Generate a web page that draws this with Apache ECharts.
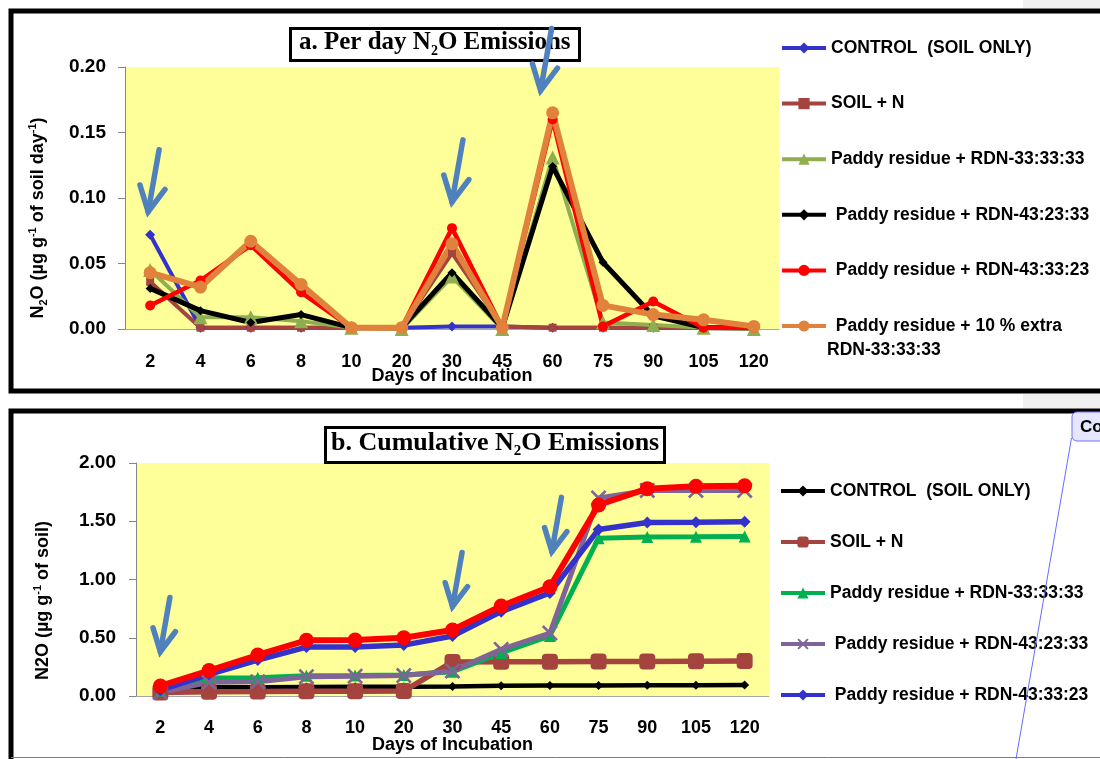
<!DOCTYPE html>
<html><head><meta charset="utf-8">
<script src="https://cdn.jsdelivr.net/npm/echarts@6/dist/echarts.min.js"></script>
<style>
html,body{margin:0;padding:0;background:#fff;width:1100px;height:759px;overflow:hidden}
#a{position:absolute;left:0;top:0;width:1100px;height:400px}
#b{position:absolute;left:0;top:400px;width:1100px;height:359px}
</style></head><body><div id="a"></div><div id="b"></div>
<script>
// ---------- DATA ----------
const days = ['2','4','6','8','10','20','30','45','60','75','90','105','120'];
const yTicksA = [0, 0.05, 0.10, 0.15, 0.20];
const yTicksB = [0, 0.5, 1.0, 1.5, 2.0];

// a. Per day N2O emissions (µg g-1 soil day-1)
const dailyControl = [0.072,0.001,0.001,0.001,0.001,0.001,0.002,0.002,0.001,0.001,0.001,0.001,0.001];
const dailySoilN   = [0.036,0.001,0.001,0.001,0.001,0.001,0.058,0.002,0.001,0.001,0.001,0.001,0.001];
const daily333333  = [0.045,0.009,0.009,0.006,0.001,0.000,0.040,0.000,0.131,0.005,0.003,0.001,0.000];
const daily432333  = [0.031,0.014,0.005,0.011,0.001,0.001,0.043,0.001,0.124,0.051,0.010,0.001,0.001];
const daily433323  = [0.018,0.037,0.064,0.028,0.001,0.001,0.077,0.001,0.160,0.002,0.021,0.001,0.001];
const dailyExtra   = [0.043,0.032,0.067,0.034,0.001,0.001,0.065,0.001,0.165,0.018,0.011,0.007,0.002];

// b. Cumulative N2O emissions (µg g-1 soil)
const cumControl = [0.072,0.075,0.076,0.078,0.079,0.080,0.082,0.088,0.090,0.091,0.092,0.093,0.094];
const cumSoilN   = [0.030,0.037,0.038,0.040,0.041,0.042,0.292,0.294,0.295,0.296,0.296,0.298,0.300];
const cum333333  = [0.045,0.154,0.157,0.174,0.176,0.180,0.209,0.370,0.515,1.355,1.365,1.367,1.370];
const cum432333  = [0.030,0.118,0.123,0.166,0.170,0.175,0.215,0.400,0.540,1.700,1.765,1.765,1.765];
const cum433323  = [0.050,0.186,0.309,0.420,0.420,0.437,0.515,0.724,0.885,1.430,1.490,1.492,1.496];
const cumExtra   = [0.086,0.218,0.352,0.478,0.480,0.500,0.566,0.772,0.938,1.640,1.780,1.800,1.805];

// annotation arrows (tip anchored at category index / value)
const arrowsA = [{cat:0,val:0.0895,dx:-2},{cat:6,val:0.097,dx:0},{cat:8,val:0.182,dx:-12}];
const arrowsB = [{cat:0,val:0.38,dx:0},{cat:6,val:0.767,dx:0},{cat:8,val:1.24,dx:2}];

// ---------- STYLE ----------
const SANS = 'Liberation Sans';
const SERIF = 'Liberation Serif';
const ARROW = '#4F81BD';
const YELLOW = '#FFFF99';
const xPath = 'path://M0,1.2L1.2,0L5,3.8L8.8,0L10,1.2L6.2,5L10,8.8L8.8,10L5,6.2L1.2,10L0,8.8L3.8,5Z';

function baseAxes(tickVals, nameRich, nameGapY, namePad, xNameGap, xMargin, yMargin) {
  return {
    xAxis: {
      type:'category', data: days, boundaryGap:true,
      axisLine:{show:true, lineStyle:{color:'#A6A6A6', width:1}},
      axisTick:{show:false},
      axisLabel:{interval:0, margin:xMargin, color:'#000', fontFamily:SANS, fontWeight:'bold', fontSize:18},
      name:'Days of Incubation', nameLocation:'middle', nameGap:xNameGap, nameMoveOverlap:false,
      nameTextStyle:{color:'#000', fontFamily:SANS, fontWeight:'bold', fontSize:18}
    },
    yAxis: {
      type:'value', min:tickVals[0], max:tickVals[tickVals.length-1],
      interval: tickVals[1]-tickVals[0],
      axisLine:{show:true, lineStyle:{color:'#868686', width:1}},
      axisTick:{show:true, length:7, lineStyle:{color:'#868686'}},
      splitLine:{show:false},
      axisLabel:{margin:yMargin, color:'#000', fontFamily:SANS, fontWeight:'bold', fontSize:19,
        formatter: v => v.toFixed(2)},
      name: nameRich, nameLocation:'middle', nameRotate:90, nameGap:nameGapY, nameMoveOverlap:false,
      nameTextStyle:{color:'#000', fontFamily:SANS, fontWeight:'bold', fontSize:18, lineHeight:22,
        padding:namePad,
        rich:{
          sub:{fontFamily:SANS, fontWeight:'bold', fontSize:11, lineHeight:11, verticalAlign:'bottom', color:'#000'},
          sup:{fontFamily:SANS, fontWeight:'bold', fontSize:11, lineHeight:11, verticalAlign:'top', color:'#000'}
        }}
    }
  };
}

function lineSeries(name, data, color, symbol, size, width) {
  return {
    type:'line', name, data, symbol, symbolSize:size, showSymbol:true,
    lineStyle:{color, width}, itemStyle:{color, borderWidth:0},
    emphasis:{disabled:true}, animation:false
  };
}

function arrowEls(chart, marks, len, wing) {
  const els = [];
  const th = 10*Math.PI/180;
  const d = [-Math.sin(th), Math.cos(th)];
  const rot = (v, a) => [v[0]*Math.cos(a) - v[1]*Math.sin(a), v[0]*Math.sin(a) + v[1]*Math.cos(a)];
  marks.forEach(m => {
    const p = chart.convertToPixel({gridIndex:0}, [m.cat, m.val]);
    const tip = [p[0] + m.dx, p[1]];
    const tail = [tip[0] - d[0]*len, tip[1] - d[1]*len];
    const b = [-d[0], -d[1]];
    const w1 = rot(b, 27*Math.PI/180), w2 = rot(b, -27*Math.PI/180);
    els.push({type:'polyline', z:100, shape:{points:[tail, tip]},
      style:{stroke:ARROW, lineWidth:5.5, lineCap:'round'}});
    els.push({type:'polyline', z:100, shape:{points:[[tip[0]+w1[0]*wing, tip[1]+w1[1]*wing], tip, [tip[0]+w2[0]*wing, tip[1]+w2[1]*wing]]},
      style:{stroke:ARROW, lineWidth:5.5, lineCap:'round', lineJoin:'miter', fill:null}});
  });
  return els;
}

const legendBase = {
  orient:'vertical', itemWidth:44, itemHeight:14, padding:0,
  selectedMode:false,
  lineStyle:{width:4},
  textStyle:{fontFamily:SANS, fontWeight:'bold', fontSize:17.5, color:'#000', lineHeight:20}
};

// ---------- CHART A ----------
const chartA = echarts.init(document.getElementById('a'), null, {renderer:'canvas'});
const namesA = ['CONTROL  (SOIL ONLY)','SOIL + N','Paddy residue + RDN-33:33:33',
  ' Paddy residue + RDN-43:23:33',' Paddy residue + RDN-43:33:23',' Paddy residue + 10 % extra RDN-33:33:33'];
const axA = baseAxes(yTicksA, 'N{sub|2}O (µg g{sup|-1} of soil day{sup|-1})', 76, [0,40,0,0], 38, 24, 19);
chartA.setOption({
  animation:false,
  backgroundColor:'#fff',
  title:{
    text:'{t|a. Per day N}{s|2}{t|O Emissions}', left:290, top:26,
    padding:[2,9,3,9], borderColor:'#000', borderWidth:3,
    textStyle:{rich:{
      t:{fontFamily:SERIF, fontWeight:'bold', fontSize:25, lineHeight:30, color:'#000'},
      s:{fontFamily:SERIF, fontWeight:'bold', fontSize:14, lineHeight:10, verticalAlign:'bottom', color:'#000'}
    }}
  },
  grid:{left:125, top:67, width:654, height:262, show:true, backgroundColor:YELLOW, borderWidth:0},
  xAxis: axA.xAxis, yAxis: axA.yAxis,
  legend:Object.assign({}, legendBase, {
    left:780, top:38, itemGap:35.6,
    formatter: n => n === namesA[5] ? ' Paddy residue + 10 % extra' : n,
    data: namesA
  }),
  series:[
    lineSeries(namesA[0], dailyControl, '#3333CC', 'diamond', 10, 4),
    lineSeries(namesA[1], dailySoilN, '#A5433F', 'rect', 8, 4),
    lineSeries(namesA[2], daily333333, '#8EAE50', 'triangle', 14, 4),
    lineSeries(namesA[3], daily432333, '#000000', 'diamond', 9, 5),
    lineSeries(namesA[4], daily433323, '#FF0000', 'circle', 10, 4.5),
    lineSeries(namesA[5], dailyExtra, '#E0823C', 'circle', 13, 6)
  ]
});
chartA.setOption({graphic:{elements:[
  {type:'rect', z:-1, shape:{x:1023,y:0,width:77,height:8}, style:{fill:'#F0F0F0'}},
  {type:'rect', z:-1, shape:{x:1023,y:394,width:77,height:6}, style:{fill:'#F0F0F0'}},
  {type:'rect', z:50, shape:{x:11,y:11,width:1200,height:380}, style:{fill:null, stroke:'#000', lineWidth:5}},
  {type:'text', z:50, x:827, y:350, style:{text:'RDN-33:33:33', fontFamily:SANS, fontWeight:'bold', fontSize:17.5, fill:'#000', verticalAlign:'middle'}}
].concat(arrowEls(chartA, arrowsA, 63, 28))}});

// ---------- CHART B ----------
const chartB = echarts.init(document.getElementById('b'), null, {renderer:'canvas'});
const namesB = ['CONTROL  (SOIL ONLY)','SOIL + N','Paddy residue + RDN-33:33:33',
  ' Paddy residue + RDN-43:23:33',' Paddy residue + RDN-43:33:23'];
const nameExtraB = ' Paddy residue + 10 % extra RDN-33:33:33';
const axB = baseAxes(yTicksB, 'N2O (µg g{sup|-1} of soil)', 82, [0,42,0,0], 40, 23, 20);
chartB.setOption({
  animation:false,
  backgroundColor:'#fff',
  title:{
    text:'{t|b. Cumulative N}{s|2}{t|O Emissions}', left:325, top:25,
    padding:[3,6,4,6], borderColor:'#000', borderWidth:3,
    textStyle:{rich:{
      t:{fontFamily:SERIF, fontWeight:'bold', fontSize:26, lineHeight:31, color:'#000'},
      s:{fontFamily:SERIF, fontWeight:'bold', fontSize:15, lineHeight:10, verticalAlign:'bottom', color:'#000'}
    }}
  },
  grid:{left:136, top:63, width:633, height:233, show:true, backgroundColor:YELLOW, borderWidth:0},
  xAxis: axB.xAxis, yAxis: axB.yAxis,
  legend:Object.assign({}, legendBase, {
    left:779, top:81, itemGap:31,
    data: namesB
  }),
  series:[
    lineSeries(namesB[0], cumControl, '#000000', 'diamond', 9, 4.5),
    lineSeries(namesB[1], cumSoilN, '#A5433F', 'roundRect', 16, 5.5),
    lineSeries(namesB[2], cum333333, '#00B050', 'triangle', 12, 5),
    lineSeries(namesB[3], cum432333, '#7F6497', xPath, 16, 5),
    lineSeries(namesB[4], cum433323, '#3333CC', 'diamond', 12, 5.5),
    lineSeries(nameExtraB, cumExtra, '#FF0000', 'circle', 15, 6)
  ]
});
chartB.setOption({graphic:{elements:[
  {type:'rect', z:-1, shape:{x:1023,y:0,width:77,height:8}, style:{fill:'#F0F0F0'}},
  {type:'polyline', z:50, shape:{points:[[11,400],[11,11],[1110,11]]}, style:{stroke:'#000', lineWidth:5, fill:null}},
  {type:'line', z:50, shape:{x1:11,y1:357.5,x2:1100,y2:357.5}, style:{stroke:'#7F7F7F', lineWidth:1}},
  {type:'line', z:60, shape:{x1:1071.5,y1:38,x2:1016,y2:359}, style:{stroke:'#6A6AFF', lineWidth:1}},
  {type:'rect', z:61, shape:{x:1072,y:12,width:40,height:29,r:5}, style:{fill:'#E6E6FF', stroke:'#7070FF', lineWidth:1}},
  {type:'text', z:62, x:1080, y:27, style:{text:'Co', fontFamily:SANS, fontWeight:'bold', fontSize:17, fill:'#000', verticalAlign:'middle'}}
].concat(arrowEls(chartB, arrowsB, 55, 25))}});
</script></body></html>
